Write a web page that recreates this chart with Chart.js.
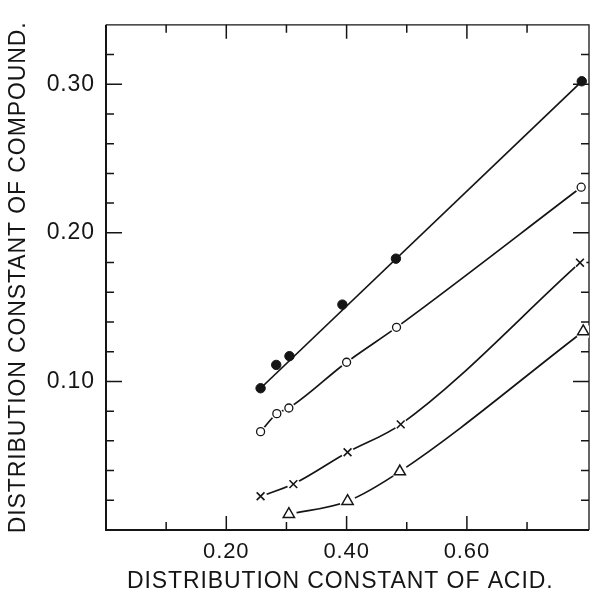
<!DOCTYPE html>
<html>
<head>
<meta charset="utf-8">
<script src="https://cdn.jsdelivr.net/npm/chart.js@4"></script>
<style>
  html, body { margin: 0; padding: 0; background: #fff; }
  #wrap { width: 597px; height: 595px; }
</style>
</head>
<body>
<div id="wrap"><canvas id="c" width="597" height="595"></canvas></div>
<script>
// ---- data ----
const filledX = [0.257, 0.283, 0.305, 0.393, 0.482, 0.791];
const filledY = [0.0954, 0.1111, 0.1170, 0.1517, 0.1826, 0.3020];
const fitX = [0.257, 0.791];
const fitY = [0.0954, 0.3020];
const openX = [0.257, 0.284, 0.304, 0.400, 0.483, 0.790];
const openY = [0.0662, 0.0783, 0.0821, 0.1129, 0.1364, 0.2307];
const crossX = [0.257, 0.3115, 0.4016, 0.490, 0.788];
const crossY = [0.0227, 0.0309, 0.0523, 0.0711, 0.1799];
const triX = [0.304, 0.4016, 0.4885, 0.7934];
const triY = [0.0106, 0.0194, 0.0393, 0.1336];

const xLabeledTicks = [0.2, 0.4, 0.6];
const yLabeledTicks = [0.1, 0.2, 0.3];
const xTitle = 'DISTRIBUTION CONSTANT OF ACID.';
const yTitle = 'DISTRIBUTION CONSTANT OF COMPOUND.';

const pts = (xs, ys) => xs.map((v, i) => ({ x: v, y: ys[i] }));
const INK = '#151515';
const FONT = "'Liberation Sans', Arial, sans-serif";
const isLabeled = (list, v) => list.some(t => Math.abs(t - v) < 1e-6);

const spacing = {
  id: 'spacing',
  beforeDraw(chart) { chart.ctx.letterSpacing = '0.9px'; }
};

const frameTicks = {
  id: 'frameTicks',
  beforeDatasetsDraw(chart) {
    const { ctx, chartArea: a, scales: { x, y } } = chart;
    ctx.save();
    ctx.strokeStyle = INK;
    ctx.lineWidth = 1.5;
    ctx.beginPath();
    x.ticks.forEach(t => {
      const px = x.getPixelForValue(t.value);
      if (px < a.left + 2 || px > a.right - 2) return;
      const len = isLabeled(xLabeledTicks, t.value) ? 14 : 8;
      ctx.moveTo(px, a.bottom); ctx.lineTo(px, a.bottom - len);
      ctx.moveTo(px, a.top); ctx.lineTo(px, a.top + len);
    });
    y.ticks.forEach(t => {
      const py = y.getPixelForValue(t.value);
      if (py > a.bottom - 2 || py < a.top + 2) return;
      const len = isLabeled(yLabeledTicks, t.value) ? 16 : 8;
      ctx.moveTo(a.left, py); ctx.lineTo(a.left + len, py);
      ctx.moveTo(a.right, py); ctx.lineTo(a.right - len, py);
    });
    ctx.stroke();
    ctx.lineWidth = 1.3;
    ctx.beginPath();
    ctx.moveTo(a.left, a.top); ctx.lineTo(a.right, a.top); ctx.lineTo(a.right, a.bottom);
    ctx.stroke();
    ctx.lineWidth = 2;
    ctx.beginPath();
    ctx.moveTo(a.left, a.top); ctx.lineTo(a.left, a.bottom); ctx.lineTo(a.right, a.bottom);
    ctx.stroke();
    ctx.restore();
  }
};

const lineDs = (data, halo, extra) => Object.assign({
  data, showLine: true, borderColor: INK, borderWidth: 1.7,
  pointRadius: halo, pointBackgroundColor: '#fff', pointBorderColor: '#fff', pointBorderWidth: 0,
  order: 2, tension: 0
}, extra || {});

const markDs = (data, style, r, fill, bw) => ({
  data, showLine: false, pointStyle: style, pointRadius: r,
  pointBackgroundColor: fill, pointBorderColor: INK, pointBorderWidth: bw, order: 1
});

new Chart(document.getElementById('c'), {
  type: 'scatter',
  data: {
    datasets: [
      markDs(pts(filledX, filledY), 'circle', 4.7, INK, 1),
      markDs(pts(openX, openY), 'circle', 4, '#fff', 1.3),
      markDs(pts(crossX, crossY), 'crossRot', 5.5, INK, 1.6),
      markDs(pts(triX, triY), 'triangle', 6.5, '#fff', 1.5),
      lineDs(pts(fitX, fitY), 0),
      lineDs(pts(openX, openY), 6, { cubicInterpolationMode: 'monotone' }),
      lineDs(pts(crossX, crossY), 6.5, { cubicInterpolationMode: 'monotone' }),
      lineDs(pts(triX, triY), 8, { cubicInterpolationMode: 'monotone' })
    ]
  },
  options: {
    responsive: false,
    animation: false,
    events: [],
    layout: { padding: { top: 16, right: 1, left: 0, bottom: 0 } },
    plugins: { legend: { display: false }, tooltip: { enabled: false } },
    scales: {
      x: {
        type: 'linear', min: 0, max: 0.803,
        grid: { display: false, drawTicks: false },
        border: { display: false },
        afterFit: s => { s.height = 65; },
        ticks: {
          stepSize: 0.1, includeBounds: false, autoSkip: false, maxRotation: 0,
          padding: 9, color: INK, font: { family: FONT, size: 22 },
          callback: v => isLabeled(xLabeledTicks, v) ? v.toFixed(2) : ''
        },
        title: {
          display: true, text: xTitle + '\u00A0\u00A0', color: INK,
          font: { family: FONT, size: 23 }, padding: { top: 0, bottom: 0 }
        }
      },
      y: {
        type: 'linear', min: 0, max: 0.34,
        grid: { display: false, drawTicks: false },
        border: { display: false },
        afterFit: s => { s.width = 106; },
        ticks: {
          stepSize: 0.02, includeBounds: false, autoSkip: false,
          padding: 11, color: INK, font: { family: FONT, size: 23 },
          callback: v => isLabeled(yLabeledTicks, v) ? v.toFixed(2) : ''
        },
        title: {
          display: true, text: yTitle, color: INK,
          font: { family: FONT, size: 23 }, padding: { top: 5, bottom: 0 }
        }
      }
    }
  },
  plugins: [spacing, frameTicks]
});
</script>
</body>
</html>
